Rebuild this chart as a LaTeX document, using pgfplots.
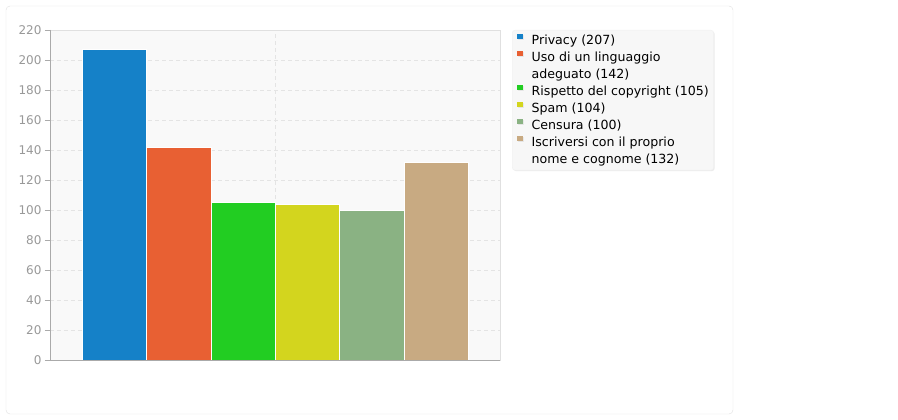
\documentclass[border=0pt]{standalone}
\usepackage{pgfplots}
\pgfplotsset{compat=1.18}
\usepackage{fontspec}
\setmainfont{DejaVu Sans}
\usetikzlibrary{shadows}
\definecolor{cPriv}{HTML}{1581C8}
\definecolor{cUso}{HTML}{E86033}
\definecolor{cRisp}{HTML}{22CD22}
\definecolor{cSpam}{HTML}{D3D51E}
\definecolor{cCens}{HTML}{8AB283}
\definecolor{cIscr}{HTML}{C8AA82}
\definecolor{tickgray}{HTML}{999999}
\definecolor{axgray}{HTML}{AAAAAA}
\definecolor{gridgray}{HTML}{E4E4E4}
\begin{document}
\begin{tikzpicture}
\path[use as bounding box] (0,0) rectangle (898pt,420pt);
\draw[black!12, fill=white, rounded corners=4pt] (6pt,6pt) rectangle (733pt,414pt);
\begin{axis}[
  at={(50pt,60pt)}, anchor=south west,
  scale only axis, width=450pt, height=330pt,
  xmin=0, xmax=450, ymin=0, ymax=220,
  ytick={0,20,...,220},
  xtick={225}, xticklabels={},
  ytick pos=left,
  xmajorgrids, ymajorgrids,
  grid style={gridgray, dash pattern=on 4pt off 3pt, line width=0.5pt},
  axis line style={black!12},
  axis background/.style={fill=black!2.5},
  tick align=outside,
  major tick length=5pt,
  ytick style={axgray, line width=0.6pt},
  xtick style={draw=none},
  yticklabel style={font=\fontsize{12}{14}\selectfont, text=tickgray},
  /pgf/number format/assume math mode=true,
  ybar, bar shift=0pt, bar width=64.3,
  every axis plot/.append style={draw=white, line width=0.5pt},
  legend style={
    at={(1,1)}, anchor=north west, xshift=12pt,
    font=\fontsize{12.6}{17}\selectfont,
    fill=black!3, draw=black!6, rounded corners=3pt,
    drop shadow={opacity=0.15, shadow xshift=1pt, shadow yshift=-1pt},
    inner xsep=5pt, inner ysep=2pt,
    row sep=0pt, column sep=9pt,
    nodes={inner sep=0pt, text height=12.5pt, text depth=4.5pt},
    cells={anchor=west},
  },
  legend image code/.code={\fill[#1, draw=none, sharp corners] (0pt,1.5pt) rectangle (5.5pt,7pt);},
  after end axis/.code={\draw[axgray, line width=0.7pt] (rel axis cs:0,1) -- (rel axis cs:0,0) -- (rel axis cs:1,0);},
]
\addplot[fill=cPriv] coordinates {(64.5,207)};
\addlegendentry{Privacy (207)}
\addplot[fill=cUso] coordinates {(128.8,142)};
\addlegendentry{Uso di un linguaggio}
\addlegendimage{empty legend}
\addlegendentry{adeguato (142)}
\addplot[fill=cRisp] coordinates {(193.1,105)};
\addlegendentry{Rispetto del copyright (105)\hspace{5pt}}
\addplot[fill=cSpam] coordinates {(257.4,104)};
\addlegendentry{Spam (104)}
\addplot[fill=cCens] coordinates {(321.7,100)};
\addlegendentry{Censura (100)}
\addplot[fill=cIscr] coordinates {(386,132)};
\addlegendentry{Iscriversi con il proprio}
\addlegendimage{empty legend}
\addlegendentry{nome e cognome (132)}
\end{axis}
\end{tikzpicture}
\end{document}
